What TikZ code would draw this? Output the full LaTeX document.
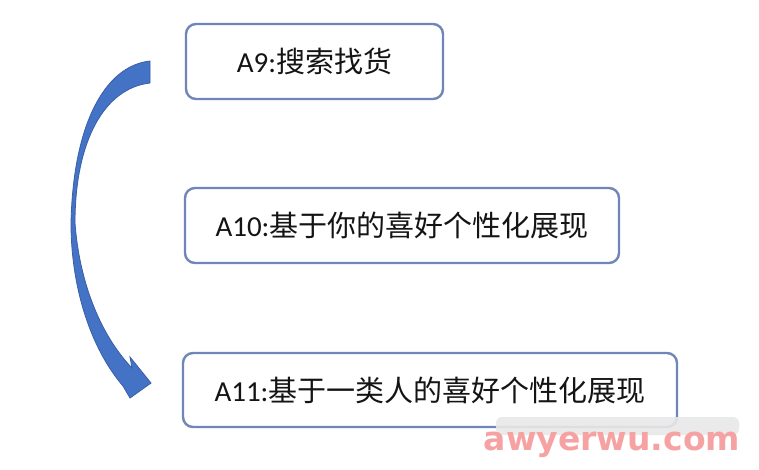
\documentclass[tikz,border=0pt]{standalone}
\usepackage{fontspec}
\setmainfont{Carlito}
\newfontfamily\cjk{Noto Sans CJK SC}
\newfontfamily\wmfont{DejaVu Sans}
\definecolor{boxline}{RGB}{112,133,184}
\definecolor{arrowfill}{RGB}{68,114,196}
\definecolor{arrowline}{RGB}{58,95,168}
\definecolor{wmpink}{RGB}{247,162,162}
\definecolor{txt}{RGB}{20,20,20}
\begin{document}
\begin{tikzpicture}[x=1pt,y=-1pt,
  stepbox/.style={draw=boxline,line width=2.4pt,rounded corners=10pt,fill=white,
    text=txt,inner sep=0pt,font=\fontsize{29}{34}\selectfont}]
\useasboundingbox (0,0) rectangle (759,469);
\fill[white] (0,0) rectangle (759,469);
% boxes
\node[stepbox,minimum width=257pt,minimum height=75pt] (a9) at (314.5,61.5)
  {A9:{\cjk 搜索找货}};
\node[stepbox,minimum width=434pt,minimum height=75pt] (a10) at (402,225.5)
  {A10:{\cjk 基于你的喜好个性化展现}};
\node[stepbox,minimum width=494pt,minimum height=74pt] (a11) at (430,390)
  {A11:{\cjk 基于一类人的喜好个性化展现}};
% curved block arrow
\filldraw[fill=arrowfill,draw=arrowline,line width=0.8pt,line join=miter]
  (150,61) .. controls (104,66) and (73,126) .. (71,223)
  .. controls (71,290) and (92,350) .. (123,386)
  -- (130,398) -- (151,383) -- (130,357) -- (132,368)
  .. controls (105,340) and (80,290) .. (75,223)
  .. controls (75,140) and (105,88) .. (150,83) -- cycle;
% watermark
\fill[gray!18,opacity=0.9,rounded corners=6pt] (496,417) rectangle (739,435);
\node[anchor=base,text=wmpink,font=\wmfont\bfseries\fontsize{33}{38}\selectfont,inner sep=0pt] (wm) at (612,450) {awyerwu.com};
\end{tikzpicture}
\end{document}
